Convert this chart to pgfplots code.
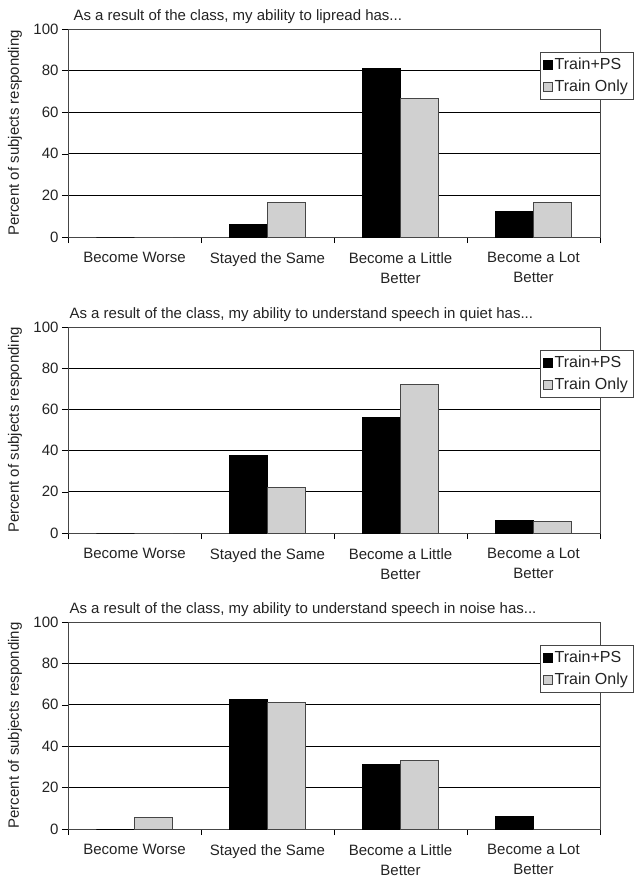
\documentclass[border=0pt]{standalone}
\usepackage{fontspec}
\setmainfont{Liberation Sans}
\usepackage{pgfplots}
\pgfplotsset{compat=1.18}
\definecolor{lightbar}{RGB}{208,208,208}
\definecolor{barline}{RGB}{70,70,70}
\definecolor{ink}{RGB}{35,35,35}
\newcommand\lbl{\fontsize{15bp}{20bp}\selectfont}
\newcommand\leg{\fontsize{16bp}{19bp}\selectfont}

\pgfplotsset{
  panel/.style={
    scale only axis, width=532bp,
    xmin=-0.5, xmax=3.5, ymin=0, ymax=100,
    ybar=0pt, bar width=0.286,
    axis line style={barline},
    tick pos=left,
    tick align=outside, tick style={black, line width=0.6pt},
    major tick length=6bp,
    xtick={-0.5,0.5,1.5,2.5,3.5}, xticklabels={},
    extra x ticks={0,1,2,3},
    extra x tick labels={Become Worse,Stayed the Same,{Become a Little\\Better},{Become a Lot\\Better}},
    extra x tick style={major tick length=0pt, xticklabel style={align=center, yshift=-12bp}},
    ytick={0,20,...,100},
    ymajorgrids, grid style={black, line width=0.7pt},
    tick label style={font=\lbl, text=ink},
    /pgf/number format/assume math mode=true,
    ylabel={Percent of subjects responding},
    every axis y label/.style={at={(axis description cs:0,0.5)}, xshift=-53bp, rotate=90, anchor=center, font=\lbl, text=ink},
    title style={at={(axis description cs:0,1)}, anchor=base west, yshift=3bp, font=\lbl, text=ink},
    legend style={at={(0.887,0.89)}, anchor=north west, draw=barline, font=\leg, text=ink,
      inner xsep=3bp, inner ysep=4bp, row sep=5bp, legend cell align=left},
    every axis plot post/.append style={legend image code/.code={\draw[#1] (0bp,-4.5bp) rectangle (9bp,4.5bp);}},
  },
  ps/.style={fill=black, draw=black, line width=0.6pt},
  only/.style={fill=lightbar, draw=barline, line width=0.6pt},
}

\begin{document}
\begin{tikzpicture}
\useasboundingbox (0,0) rectangle (641bp,-888bp);

\begin{axis}[panel, at={(68bp,-29bp)}, anchor=north west, height=208bp,
  title={As a result of the class, my ability to lipread has...}, title style={xshift=2bp}]
  \addplot[ps] coordinates {(0,0) (1,6.25) (2,81.25) (3,12.5)};
  \addplot[only] coordinates {(0,0) (1,16.7) (2,66.7) (3,16.7)};
  \legend{Train+PS,Train Only}
\end{axis}

\begin{axis}[panel, at={(68bp,-327bp)}, anchor=north west, height=206bp,
  title={As a result of the class, my ability to understand speech in quiet has...}, title style={xshift=-2bp}]
  \addplot[ps] coordinates {(0,0) (1,37.5) (2,56.25) (3,6.25)};
  \addplot[only] coordinates {(0,0) (1,22.2) (2,72.2) (3,5.6)};
  \legend{Train+PS,Train Only}
\end{axis}

\begin{axis}[panel, at={(68bp,-622bp)}, anchor=north west, height=207bp,
  title={As a result of the class, my ability to understand speech in noise has...}, title style={xshift=-2bp}]
  \addplot[ps] coordinates {(0,0) (1,62.5) (2,31.25) (3,6.25)};
  \addplot[only] coordinates {(0,5.6) (1,61.1) (2,33.3) (3,0)};
  \legend{Train+PS,Train Only}
\end{axis}
\end{tikzpicture}
\end{document}
